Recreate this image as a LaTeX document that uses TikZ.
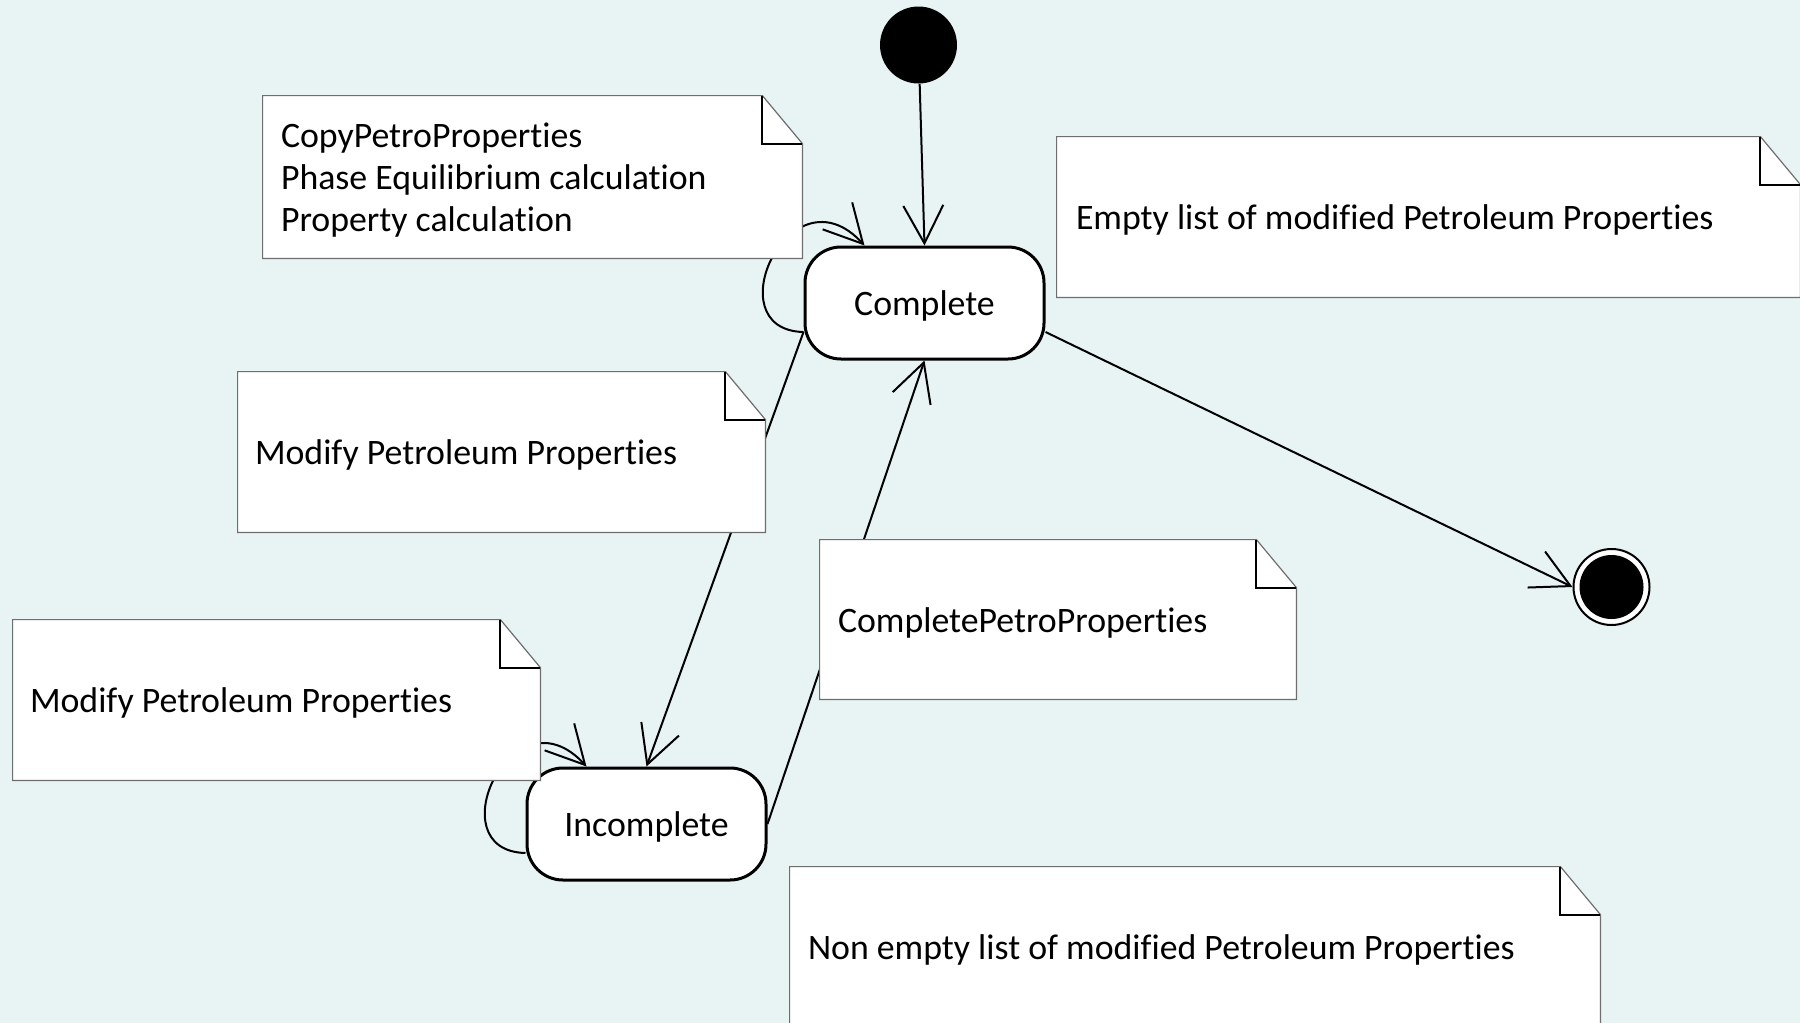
\documentclass[tikz,border=0pt]{standalone}
\usepackage{fontspec}
\setmainfont{Carlito}[Ligatures=NoCommon]
\usetikzlibrary{arrows.meta}
\definecolor{canvas}{RGB}{232,244,244}
\definecolor{noteedge}{RGB}{110,110,110}
\tikzset{
  state/.style={draw, line width=1.5pt, fill=white, rounded corners=18pt, minimum width=119.5pt, minimum height=56pt, inner sep=0pt,
    execute at begin node={\rule{0pt}{15.5pt}}},
  startdot/.style={circle, fill=black, minimum size=38.5pt, inner sep=0pt},
  enddot/.style={circle, draw, line width=1pt, fill=white, minimum size=38pt, inner sep=0pt},
  note/.style={fill=white, inner sep=0pt, align=flush left, execute at begin node={\rule{0pt}{15.5pt}}},
  trans/.style={line width=1pt, -{Straight Barb[length=19pt,width=20pt]}},
}
% folded corner and frame of a note
\newcommand{\dogear}[1]{%
  \fill[canvas] ([xshift=-20pt]#1.north east) -- (#1.north east) -- ([yshift=-24pt]#1.north east) -- cycle;
  \draw[noteedge, line width=0.6pt] (#1.north west) -- ([xshift=-20pt]#1.north east) -- ([yshift=-24pt]#1.north east) -- (#1.south east) -- (#1.south west) -- cycle;
  \draw[line width=1pt] ([xshift=-20pt]#1.north east) |- ([yshift=-24pt]#1.north east);
}
\begin{document}
\begin{tikzpicture}[x=0.5pt, y=-0.5pt, font=\fontsize{17.9pt}{21pt}\selectfont]
    % Background
    \fill[canvas] (0,0) rectangle (1800,1023);
    \useasboundingbox (0,0) rectangle (1800,1023);
    % States
    \node[startdot] (init) at (918.5,45) {};
    \node[state] (cmp) at (924.5,303) {Complete};
    \node[state] (inc) at (646.5,824) {Incomplete};
    \node[enddot] (fin) at (1611.5,587) {};
    \fill (fin.center) circle (16pt);
    % Transitions
    \draw[trans] (init) -- (cmp.north);
    \draw[trans] ([yshift=-14.5pt]cmp.west) .. controls +(-90,-2) and +(-74,-81) .. ([xshift=-30pt]cmp.north);
    \draw[trans] ([yshift=-14.5pt]cmp.west) -- (inc.north);
    \draw[trans] ([yshift=-14.5pt]inc.west) .. controls +(-90,-2) and +(-74,-81) .. ([xshift=-30pt]inc.north);
    \draw[trans] (inc.east) -- (cmp.south);
    \draw[trans] ([yshift=-14.5pt]cmp.east) -- (fin.west);
    % Notes
    \node[note, minimum width=269.5pt, minimum height=81pt, text width=251.5pt] (n-copy) at (532.5,177)
      {CopyPetroProperties\\Phase Equilibrium calculation\\Property calculation};
    \dogear{n-copy}
    \node[note, minimum width=371.5pt, minimum height=80pt, text width=352.5pt] (n-empty) at (1428.5,217)
      {Empty list of modified Petroleum Properties};
    \dogear{n-empty}
    \node[note, minimum width=263.5pt, minimum height=80pt, text width=246.5pt] (n-mod1) at (501.5,452)
      {Modify Petroleum Properties};
    \dogear{n-mod1}
    \node[note, minimum width=238pt, minimum height=79.5pt, text width=220pt] (n-cpp) at (1058,619.5)
      {CompletePetroProperties};
    \dogear{n-cpp}
    \node[note, minimum width=263.5pt, minimum height=80pt, text width=246.5pt] (n-mod2) at (276.5,700)
      {Modify Petroleum Properties};
    \dogear{n-mod2}
    \node[note, minimum width=405pt, minimum height=80pt, text width=387pt] (n-nonempty) at (1195,947)
      {Non empty list of modified Petroleum Properties};
    \dogear{n-nonempty}
\end{tikzpicture}
\end{document}
